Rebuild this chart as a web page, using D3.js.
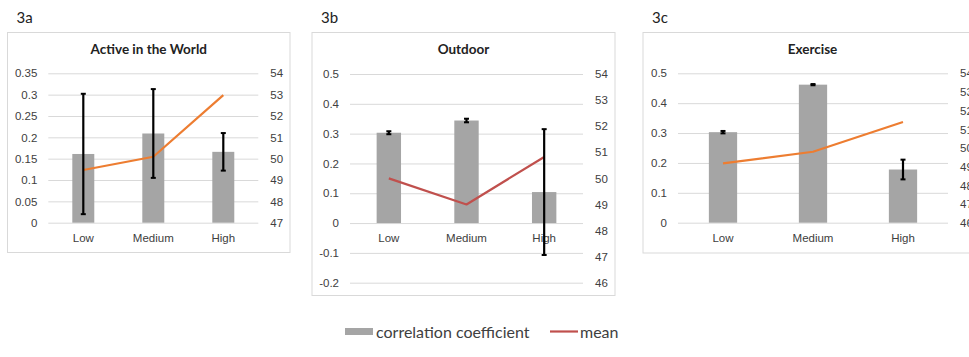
<!DOCTYPE html>
<html>
<head>
<meta charset="utf-8">
<style>
  body { margin: 0; background: #fff; }
  svg { display: block; font-family: Lato, "Open Sans", sans-serif; }
  .tick text { fill: #404040; font-size: 11.5px; }
</style>
</head>
<body>
<svg width="969" height="357"></svg>
<script src="https://cdn.jsdelivr.net/npm/d3@7"></script>
<script>
// categories shared by the three panels
var levels = ["Low", "Medium", "High"];

// 3a Active in the World
var activeCorr = [0.161, 0.209, 0.166];
var activeErr = [0.141, 0.104, 0.044];
var activeMean = [49.47, 50.09, 52.98];
var activeLeftTicks = [0, 0.05, 0.1, 0.15, 0.2, 0.25, 0.3, 0.35];
var activeRightTicks = [47, 48, 49, 50, 51, 52, 53, 54];

// 3b Outdoor
var outdoorCorr = [0.303, 0.344, 0.104];
var outdoorErr = [0.005, 0.006, 0.211];
var outdoorMean = [50.0, 49.0, 50.82];
var outdoorLeftTicks = [-0.2, -0.1, 0, 0.1, 0.2, 0.3, 0.4, 0.5];
var outdoorRightTicks = [46, 47, 48, 49, 50, 51, 52, 53, 54];

// 3c Exercise
var exerciseCorr = [0.303, 0.462, 0.178];
var exerciseErr = [0.004, 0.002, 0.033];
var exerciseMean = [49.18, 49.8, 51.39];
var exerciseLeftTicks = [0, 0.1, 0.2, 0.3, 0.4, 0.5];
var exerciseRightTicks = [46, 47, 48, 49, 50, 51, 52, 53, 54];

var svg = d3.select("svg");
var grid = "#d9d9d9", barColor = "#a5a5a5";

function panel(p) {
    var g = svg.append("g");
    // chart frame
    g.append("rect")
        .attr("x", p.box[0]).attr("y", p.box[1])
        .attr("width", p.box[2] - p.box[0]).attr("height", p.box[3] - p.box[1])
        .attr("fill", "#fff").attr("stroke", grid);
    g.append("text").attr("x", p.box[0] + 9).attr("y", 23)
        .attr("font-size", 15).attr("fill", "#222").text(p.label);
    g.append("text").attr("x", (p.box[0] + p.box[2]) / 2).attr("y", 54)
        .attr("text-anchor", "middle").attr("font-size", 13.5).attr("font-weight", "bold")
        .attr("fill", "#222").text(p.title);

    var x = d3.scaleBand().domain(levels).range(p.xr);
    var y = d3.scaleLinear().domain(d3.extent(p.leftTicks)).range(p.yr);
    var y2 = d3.scaleLinear().domain(d3.extent(p.rightTicks)).range(p.yr);
    var w = p.xr[1] - p.xr[0];

    var gl = g.append("g").attr("transform", "translate(" + p.xr[0] + ",0)")
        .call(d3.axisLeft(y).tickValues(p.leftTicks).tickSize(-w).tickPadding(11)
            .tickFormat(function(d) { return +d.toFixed(2); }));
    gl.select(".domain").remove();
    gl.selectAll("line").attr("stroke", grid);

    var gr = g.append("g").attr("transform", "translate(" + p.xr[1] + ",0)")
        .call(d3.axisRight(y2).tickValues(p.rightTicks).tickSize(0).tickPadding(12)
            .tickFormat(d3.format("d")));
    gr.select(".domain").remove();

    var gx = g.append("g").attr("transform", "translate(0," + y(0) + ")")
        .call(d3.axisBottom(x).tickSize(0).tickPadding(11));
    gx.select(".domain").remove();

    var bw = x.bandwidth() * 0.314;
    var cx = function(d, i) { return x(levels[i]) + x.bandwidth() / 2; };
    g.selectAll(".bar").data(p.corr).enter().append("rect")
        .attr("x", function(d, i) { return cx(d, i) - bw / 2; })
        .attr("y", function(d) { return y(d); })
        .attr("width", bw)
        .attr("height", function(d) { return y(0) - y(d); })
        .attr("fill", barColor);

    var line = d3.line().x(cx).y(function(d) { return y2(d); });
    g.append("path").datum(p.mean).attr("d", line)
        .attr("fill", "none").attr("stroke", p.lineColor).attr("stroke-width", 2.2)
        .attr("stroke-linejoin", "round");

    // error bars
    var eb = g.selectAll(".err").data(p.corr).enter().append("g");
    eb.append("line")
        .attr("x1", cx).attr("x2", cx)
        .attr("y1", function(d, i) { return y(d + p.err[i]); })
        .attr("y2", function(d, i) { return y(d - p.err[i]); })
        .attr("stroke", "#000").attr("stroke-width", 2.2);
    [1, -1].forEach(function(s) {
        eb.append("line")
            .attr("x1", function(d, i) { return cx(d, i) - 2.5; })
            .attr("x2", function(d, i) { return cx(d, i) + 2.5; })
            .attr("y1", function(d, i) { return y(d + s * p.err[i]); })
            .attr("y2", function(d, i) { return y(d + s * p.err[i]); })
            .attr("stroke", "#000").attr("stroke-width", 2);
    });
}

panel({ label: "3a", title: "Active in the World", box: [7.5, 32.5, 290, 252.5],
    xr: [48.3, 258.3], yr: [222.7, 73.3], corr: activeCorr, err: activeErr, mean: activeMean,
    leftTicks: activeLeftTicks, rightTicks: activeRightTicks, lineColor: "#ed7d31" });
panel({ label: "3b", title: "Outdoor", box: [312, 32.5, 615, 295.5],
    xr: [350, 583], yr: [282.7, 74], corr: outdoorCorr, err: outdoorErr, mean: outdoorMean,
    leftTicks: outdoorLeftTicks, rightTicks: outdoorRightTicks, lineColor: "#c0504d" });
panel({ label: "3c", title: "Exercise", box: [643, 32.5, 982, 253],
    xr: [678, 948], yr: [222.7, 73.3], corr: exerciseCorr, err: exerciseErr, mean: exerciseMean,
    leftTicks: exerciseLeftTicks, rightTicks: exerciseRightTicks, lineColor: "#ed7d31" });

// legend
var lg = svg.append("g").attr("font-size", 16).attr("fill", "#404040");
lg.append("rect").attr("x", 345).attr("y", 328).attr("width", 28).attr("height", 7).attr("fill", barColor);
lg.append("text").attr("x", 376).attr("y", 337.5).attr("fill", "#404040").text("correlation coefficient");
lg.append("line").attr("x1", 550).attr("x2", 578).attr("y1", 331.5).attr("y2", 331.5)
    .attr("stroke", "#c0504d").attr("stroke-width", 2.2);
lg.append("text").attr("x", 580).attr("y", 337.5).attr("fill", "#404040").text("mean");
</script>
</body>
</html>
